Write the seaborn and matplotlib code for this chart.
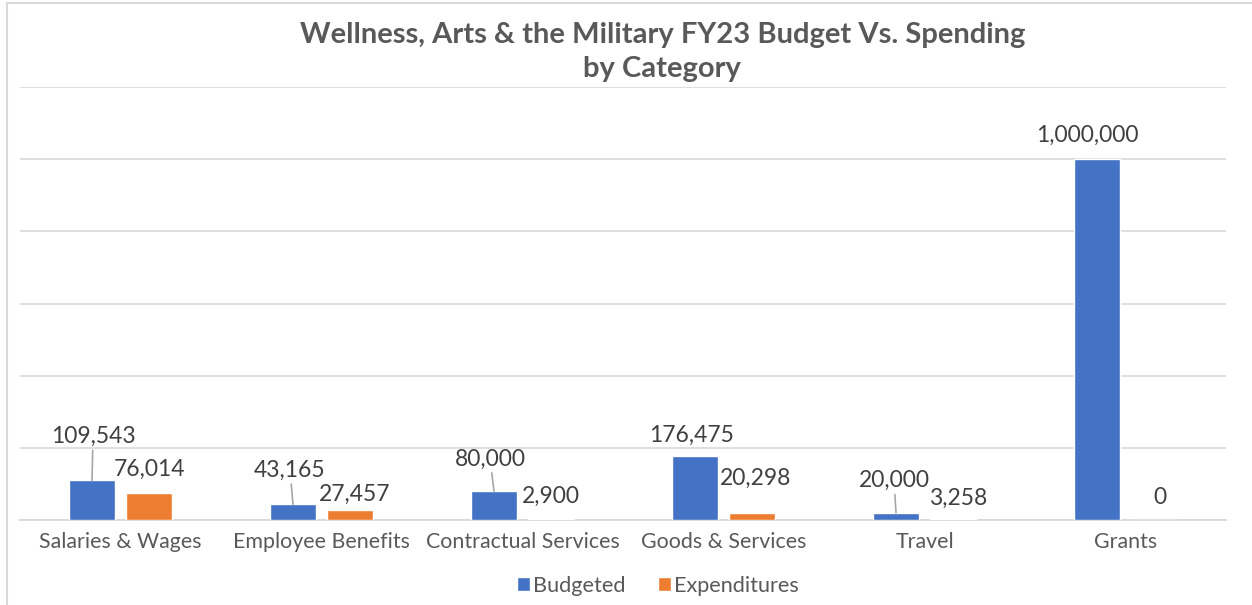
import pandas as pd
import seaborn as sns
import matplotlib.pyplot as plt
from matplotlib.lines import Line2D
from matplotlib.ticker import FixedLocator

# ==============================================================================
# DATA
# ==============================================================================
categories = ["Salaries & Wages", "Employee Benefits", "Contractual Services",
              "Goods & Services", "Travel", "Grants"]
budgeted = [109543, 43165, 80000, 176475, 20000, 1000000]
expenditures = [76014, 27457, 2900, 20298, 3258, 0]
series = ["Budgeted", "Expenditures"]

# label offsets in pixels from bar top (Excel labels were dragged around)
offsets_budget = [(1, 44), (-3, 34), (-4, 32), (-3, 21), (-2, 32), (-10, 24)]
offsets_exp = [(1, 23), (5, 16), (0, 23), (4, 34), (5, 20), (6, 23)]
leaders_budget = [True, True, True, False, True, False]

TEXT = "#595959"
LABEL = "#404040"
GRID = "#D9D9D9"

sns.set_theme(style="white")
plt.rcParams['font.family'] = ['Lato', 'DejaVu Sans']

df = pd.DataFrame({
    "Category": categories * 2,
    "Serie": [series[0]] * len(categories) + [series[1]] * len(categories),
    "Value": budgeted + expenditures,
})

fig = plt.figure(figsize=(12.52, 6.05), dpi=100)
ax = fig.add_axes([20 / 1252, 1 - 520 / 605, 1206 / 1252, 433 / 605])

sns.barplot(data=df, x="Category", y="Value", hue="Serie", order=categories,
            palette=["#4472C4", "#ED7D31"], width=0.567, gap=0.21,
            saturation=1, ax=ax, legend=True, zorder=3)

ax.set_xlim(-0.5, len(categories) - 0.5)
ax.set_ylim(0, 1200000)
ax.set_yticks(range(0, 1200001, 200000))
ax.yaxis.grid(True, color=GRID, lw=1.2, zorder=0)
ax.tick_params(axis='y', length=0, labelleft=False)
ax.set_xlabel("")
ax.set_ylabel("")
for s in ["top", "right", "left"]:
    ax.spines[s].set_visible(False)
ax.spines["bottom"].set_color(GRID)
ax.spines["bottom"].set_linewidth(1.3)

ax.tick_params(axis='x', which='major', length=0, pad=9, labelsize=15.4, labelcolor=TEXT)
ax.xaxis.set_minor_locator(FixedLocator([i - 0.5 for i in range(len(categories) + 1)]))
ax.tick_params(axis='x', which='minor', length=6, width=1.2, color=GRID, direction='out')

# data labels
for cont, offs, vals, leaders in [
    (ax.containers[0], offsets_budget, budgeted, leaders_budget),
    (ax.containers[1], offsets_exp, expenditures, [False] * len(categories)),
]:
    for bar, (dx, dy), v, lead in zip(cont.patches, offs, vals, leaders):
        x = bar.get_x() + bar.get_width() / 2
        y = bar.get_height()
        arrow = dict(arrowstyle='-', color="#A6A6A6", lw=1.2, shrinkA=0, shrinkB=0) if lead else None
        ax.annotate(f"{v:,.0f}", xy=(x, y), xytext=(dx, dy), textcoords='offset pixels',
                    ha='center', va='center', fontsize=16.5, color=LABEL,
                    arrowprops=arrow, zorder=4)

# legend
handles, labels = ax.get_legend_handles_labels()
ax.legend(handles, labels, loc='center', bbox_to_anchor=(0.5255, 1 - 586 / 605),
          bbox_transform=fig.transFigure, ncol=2, frameon=False, fontsize=15.6,
          labelcolor=TEXT, handlelength=0.6, handleheight=0.6, handletextpad=0.15,
          columnspacing=1.5)

fig.text(0.529, 1 - 52 / 605,
         "Wellness, Arts & the Military FY23 Budget Vs. Spending\nby Category",
         ha='center', va='center', fontsize=21, fontweight='bold', color=TEXT,
         linespacing=1.4)

# chart frame (Excel chart area border, cut at right/bottom)
fig.add_artist(Line2D([7 / 1252, 7 / 1252], [0, 1 - 3 / 605], transform=fig.transFigure,
                      color=GRID, lw=1.5))
fig.add_artist(Line2D([7 / 1252, 1], [1 - 3 / 605, 1 - 3 / 605], transform=fig.transFigure,
                      color=GRID, lw=1.5))

fig.savefig("out.png", dpi=100)
